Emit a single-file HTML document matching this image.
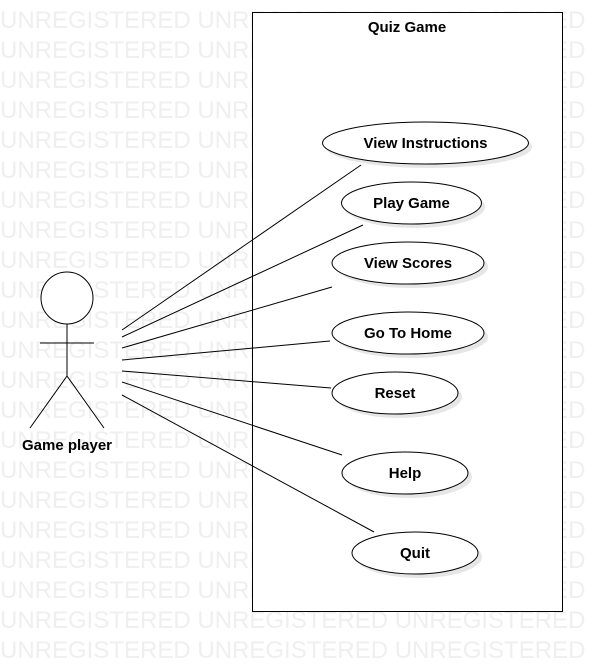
<!DOCTYPE html>
<html><head><style>
body{margin:0;width:612px;height:662px;overflow:hidden;background:#fff;position:relative;font-family:"Liberation Sans",sans-serif}
.wm{position:absolute;left:0;top:0;width:612px;height:662px;overflow:hidden;color:#efefef;font-size:24px;line-height:30px;white-space:nowrap}
svg{position:absolute;left:0;top:0}
</style></head><body>
<div class="wm" style="top:6px">
UNREGISTERED UNREGISTERED UNREGISTERED<br>UNREGISTERED UNREGISTERED UNREGISTERED<br>UNREGISTERED UNREGISTERED UNREGISTERED<br>UNREGISTERED UNREGISTERED UNREGISTERED<br>UNREGISTERED UNREGISTERED UNREGISTERED<br>UNREGISTERED UNREGISTERED UNREGISTERED<br>UNREGISTERED UNREGISTERED UNREGISTERED<br>UNREGISTERED UNREGISTERED UNREGISTERED<br>UNREGISTERED UNREGISTERED UNREGISTERED<br>UNREGISTERED UNREGISTERED UNREGISTERED<br>UNREGISTERED UNREGISTERED UNREGISTERED<br>UNREGISTERED UNREGISTERED UNREGISTERED<br>UNREGISTERED UNREGISTERED UNREGISTERED<br>UNREGISTERED UNREGISTERED UNREGISTERED<br>UNREGISTERED UNREGISTERED UNREGISTERED<br>UNREGISTERED UNREGISTERED UNREGISTERED<br>UNREGISTERED UNREGISTERED UNREGISTERED<br>UNREGISTERED UNREGISTERED UNREGISTERED<br>UNREGISTERED UNREGISTERED UNREGISTERED<br>UNREGISTERED UNREGISTERED UNREGISTERED<br>UNREGISTERED UNREGISTERED UNREGISTERED<br>UNREGISTERED UNREGISTERED UNREGISTERED<br>UNREGISTERED UNREGISTERED UNREGISTERED
</div>
<svg width="612" height="662" font-family="Liberation Sans, sans-serif" font-weight="bold" font-size="15">
<rect x="252.5" y="12.5" width="310" height="599" fill="#fff" stroke="#000"/>
<text x="407" y="32" text-anchor="middle">Quiz Game</text>
<g fill="#e6e6e6">
<ellipse cx="429" cy="147" rx="103" ry="21"/>
<ellipse cx="415" cy="207" rx="70" ry="21"/>
<ellipse cx="412" cy="267" rx="76" ry="21"/>
<ellipse cx="412" cy="337" rx="76" ry="21"/>
<ellipse cx="399" cy="397" rx="63" ry="21"/>
<ellipse cx="409" cy="477" rx="63" ry="21"/>
<ellipse cx="419" cy="557" rx="63" ry="21"/>
</g>
<g fill="#fff" stroke="#000">
<ellipse cx="425.5" cy="143" rx="103" ry="21"/>
<ellipse cx="411.5" cy="203" rx="70" ry="21"/>
<ellipse cx="408" cy="263" rx="76" ry="21"/>
<ellipse cx="408" cy="333" rx="76" ry="21"/>
<ellipse cx="395" cy="393" rx="63" ry="21"/>
<ellipse cx="405" cy="473" rx="63" ry="21"/>
<ellipse cx="415" cy="553" rx="63" ry="21"/>
</g>
<g text-anchor="middle">
<text x="425.5" y="148">View Instructions</text>
<text x="411.5" y="208">Play Game</text>
<text x="408" y="268">View Scores</text>
<text x="408" y="338">Go To Home</text>
<text x="395" y="398">Reset</text>
<text x="405" y="478">Help</text>
<text x="415" y="558">Quit</text>
</g>
<g stroke="#000" fill="none">
<circle cx="67" cy="298" r="26" fill="#fff"/>
<line x1="67" y1="324" x2="67" y2="376"/>
<line x1="40" y1="343" x2="94" y2="343"/>
<line x1="67" y1="376" x2="30" y2="428"/>
<line x1="67" y1="376" x2="104" y2="428"/>
<line x1="122" y1="330" x2="361" y2="165"/>
<line x1="122" y1="337" x2="363" y2="225"/>
<line x1="122" y1="348" x2="332" y2="287"/>
<line x1="122" y1="360" x2="330" y2="341"/>
<line x1="122" y1="371" x2="331" y2="388"/>
<line x1="122" y1="382" x2="342" y2="455"/>
<line x1="122" y1="395" x2="374" y2="532"/>
</g>
<text x="67" y="450" text-anchor="middle">Game player</text>
</svg>
</body></html>
